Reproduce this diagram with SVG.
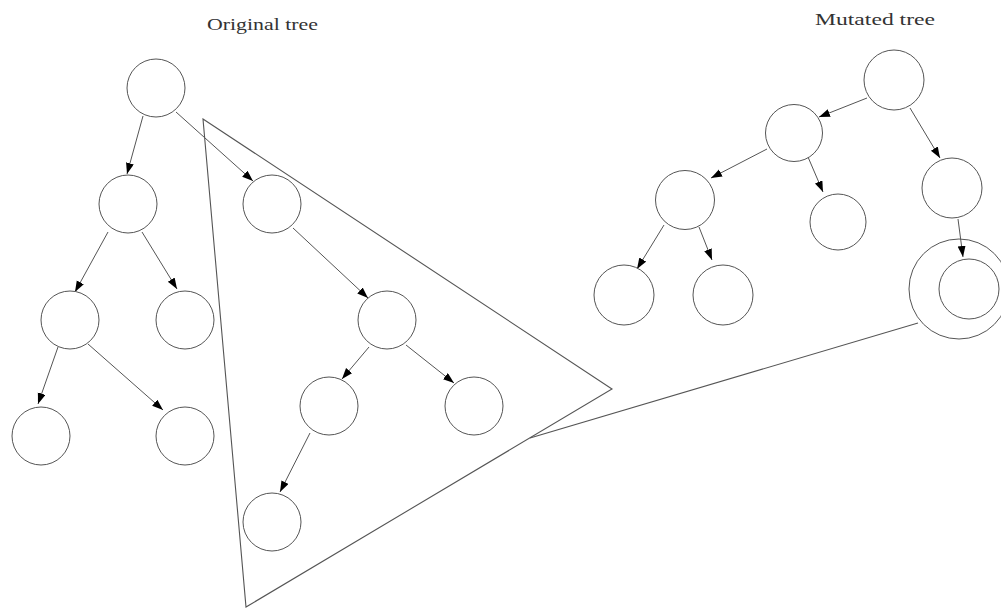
<svg xmlns="http://www.w3.org/2000/svg" width="1001" height="608" viewBox="0 0 1001 608">
<style>
.n{fill:#fff;stroke:#555;stroke-width:1}
.e{stroke:#555;stroke-width:1;fill:none}
.t{font-family:"Liberation Serif","DejaVu Serif",serif;font-size:17px;fill:#333}
.s{fill:none;stroke:#555;stroke-width:1.1}
</style>
<defs>
<marker id="ah" markerUnits="userSpaceOnUse" markerWidth="12" markerHeight="9" refX="11" refY="4" orient="auto" viewBox="0 0 12 9">
<path d="M0,0 L11,4 L0,8 z" fill="#000"/>
</marker>
</defs>
<rect width="1001" height="608" fill="#fff"/>
<text class="t" x="207" y="30" textLength="111" lengthAdjust="spacingAndGlyphs">Original tree</text>
<text class="t" x="815" y="25" textLength="120" lengthAdjust="spacingAndGlyphs">Mutated tree</text>
<g id="selection">
<polygon class="s" points="203,119 612,389 246,607"/>
<line class="s" x1="530" y1="438" x2="918" y2="323"/>
</g>
<g id="connectors">
<line class="e" x1="143" y1="116" x2="127" y2="174" marker-end="url(#ah)"/>
<line class="e" x1="176" y1="112" x2="253" y2="181" marker-end="url(#ah)"/>
<line class="e" x1="108" y1="232" x2="75" y2="292" marker-end="url(#ah)"/>
<line class="e" x1="142" y1="232" x2="177" y2="289" marker-end="url(#ah)"/>
<line class="e" x1="58" y1="347" x2="38" y2="404" marker-end="url(#ah)"/>
<line class="e" x1="88" y1="344" x2="163" y2="410" marker-end="url(#ah)"/>
<line class="e" x1="293" y1="228" x2="368" y2="298" marker-end="url(#ah)"/>
<line class="e" x1="369" y1="347" x2="342" y2="379" marker-end="url(#ah)"/>
<line class="e" x1="406" y1="345" x2="454" y2="383" marker-end="url(#ah)"/>
<line class="e" x1="310" y1="433" x2="280" y2="492" marker-end="url(#ah)"/>
<line class="e" x1="867" y1="98" x2="819" y2="117" marker-end="url(#ah)"/>
<line class="e" x1="910" y1="108" x2="940" y2="158" marker-end="url(#ah)"/>
<line class="e" x1="767" y1="149" x2="711" y2="178" marker-end="url(#ah)"/>
<line class="e" x1="808" y1="157" x2="823" y2="192" marker-end="url(#ah)"/>
<line class="e" x1="664" y1="225" x2="637" y2="269" marker-end="url(#ah)"/>
<line class="e" x1="699" y1="227" x2="712" y2="260" marker-end="url(#ah)"/>
<line class="e" x1="958" y1="219" x2="963" y2="257" marker-end="url(#ah)"/>
</g>
<g id="o-root"><circle class="n" cx="156" cy="88" r="29"/></g>
<g id="o-a"><circle class="n" cx="128" cy="204" r="29"/></g>
<g id="o-b"><circle class="n" cx="272" cy="204" r="29"/></g>
<g id="o-c"><circle class="n" cx="70" cy="320" r="29"/></g>
<g id="o-d"><circle class="n" cx="185" cy="320" r="29"/></g>
<g id="o-e"><circle class="n" cx="41" cy="436" r="29"/></g>
<g id="o-f"><circle class="n" cx="185" cy="436" r="29"/></g>
<g id="o-g"><circle class="n" cx="387" cy="320" r="29"/></g>
<g id="o-h"><circle class="n" cx="329" cy="406" r="29"/></g>
<g id="o-i"><circle class="n" cx="474" cy="406" r="29"/></g>
<g id="o-j"><circle class="n" cx="272" cy="522" r="29"/></g>
<g id="m-root"><circle class="n" cx="894" cy="80" r="30"/></g>
<g id="m-l"><circle class="n" cx="794" cy="133" r="28.5"/></g>
<g id="m-r"><circle class="n" cx="952" cy="188" r="30"/></g>
<g id="m-ll"><circle class="n" cx="685" cy="200" r="29.5"/></g>
<g id="m-lr"><circle class="n" cx="838" cy="222" r="28"/></g>
<g id="m-lll"><circle class="n" cx="624" cy="295" r="30"/></g>
<g id="m-llr"><circle class="n" cx="723" cy="295" r="30"/></g>
<g id="m-new"><circle class="n" cx="959" cy="289" r="50" style="fill:none"/><circle class="n" cx="969" cy="289" r="30"/></g>
</svg>
